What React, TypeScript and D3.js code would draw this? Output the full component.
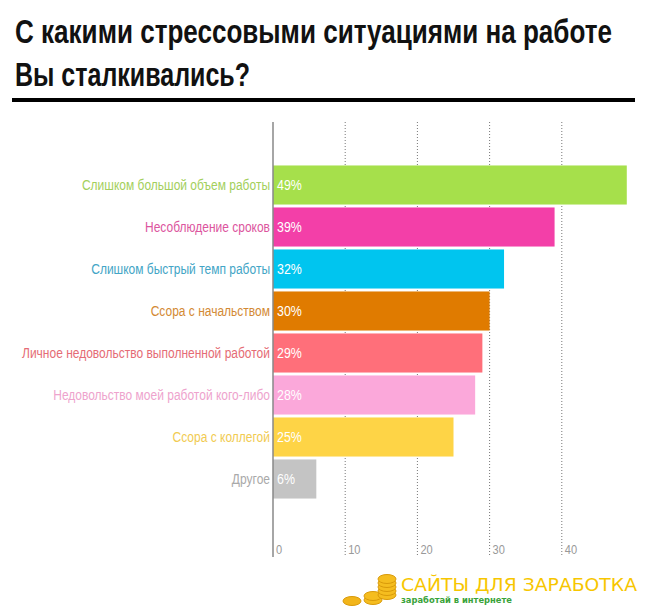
import React, { useLayoutEffect, useRef, useState } from "react";
import * as d3 from "d3";

const categories = [
  "Слишком большой объем работы",
  "Несоблюдение сроков",
  "Слишком быстрый темп работы",
  "Ссора с начальством",
  "Личное недовольство выполненной работой",
  "Недовольство моей работой кого-либо",
  "Ссора с коллегой",
  "Другое",
];
const values = [49, 39, 32, 30, 29, 28, 25, 6];
const barColors = ["#a6e04b", "#f33fa8", "#00c5ef", "#e07b00", "#ff6f7a", "#fba8da", "#fed446", "#c4c4c4"];
const labelColors = ["#a3cf5c", "#dc559e", "#43a5c6", "#d38a34", "#e56b75", "#eea3cd", "#f1cb52", "#a9a9a9"];
const ticks = [0, 10, 20, 30, 40];
const titleLines = ["С какими стрессовыми ситуациями на работе", "Вы сталкивались?"];
const titleWidths = [597, 235];

const W = 655, H = 616;

export default function App() {
  const x = d3.scaleLinear().domain([0, 10]).range([273, 345.2]);
  const y = d3.scaleBand().domain(categories).range([164, 500]).paddingInner(0.07).paddingOuter(0.035);
  const axisTop = 122, axisBottom = 557;
  const font = "'Liberation Sans', Arial, sans-serif";
  const sx = 0.8;
  const t0 = useRef<SVGTextElement>(null);
  const t1 = useRef<SVGTextElement>(null);
  const [scales, setScales] = useState([0.74, 0.74]);
  useLayoutEffect(() => {
    const refs = [t0, t1];
    const s = refs.map((r, i) => {
      const w = r.current ? r.current.getComputedTextLength() : 0;
      return w > 0 ? titleWidths[i] / w : 0.74;
    });
    setScales(s);
  }, []);
  return (
    <svg width={W} height={H} style={{ position: "absolute", left: 0, top: 0, background: "#fff" }}>
      <text ref={t0} transform={`translate(15,43) scale(${scales[0]},1)`} fontFamily={font} fontWeight="bold" fontSize={33} fill="#111">{titleLines[0]}</text>
      <text ref={t1} transform={`translate(15,86) scale(${scales[1]},1)`} fontFamily={font} fontWeight="bold" fontSize={33} fill="#111">{titleLines[1]}</text>
      <rect x={12} y={98} width={623} height={4} fill="#000" />
      {ticks.filter(t => t > 0).map(t => (
        <line key={t} x1={x(t)} x2={x(t)} y1={axisTop} y2={axisBottom} stroke="#777" strokeWidth={1} strokeDasharray="1,2" />
      ))}
      {categories.map((c, i) => {
        const cy = y(c)! + y.bandwidth() / 2 + 5;
        return (
          <g key={c}>
            <rect x={x(0)} y={y(c)} width={x(values[i]) - x(0)} height={y.bandwidth()} fill={barColors[i]} />
            <text transform={`translate(${x(0) - 3},${cy}) scale(${sx},1)`} textAnchor="end" fontFamily={font} fontSize={15} fill={labelColors[i]}>{c}</text>
            <text transform={`translate(${x(0) + 4},${cy}) scale(${sx},1)`} fontFamily={font} fontSize={15.5} fill="#fff">{values[i]}%</text>
          </g>
        );
      })}
      <line x1={x(0)} x2={x(0)} y1={axisTop} y2={axisBottom} stroke="#888" strokeWidth={1.5} />
      {ticks.map(t => (
        <text key={t} transform={`translate(${x(t) + 3},554) scale(0.85,1)`} fontFamily={font} fontSize={13} fill="#999">{t}</text>
      ))}
      <g>
        <ellipse cx={352} cy={601} rx={9} ry={4.5} fill="#f2b51a" stroke="#d99a0a" strokeWidth={1} />
        {[0, 1].map(k => (
          <ellipse key={"m" + k} cx={373} cy={600 - k * 4} rx={9} ry={4.5} fill="#f5bd1f" stroke="#d99a0a" strokeWidth={1} />
        ))}
        {[0, 1, 2, 3, 4].map(k => (
          <ellipse key={"s" + k} cx={387} cy={595 - k * 4} rx={9} ry={4.5} fill="#f5bd1f" stroke="#d99a0a" strokeWidth={1} />
        ))}
      </g>
      <text x={401} y={591} fontFamily="'DejaVu Sans', sans-serif" fontSize={18} fill="#f7c600" textLength={236} lengthAdjust="spacingAndGlyphs">САЙТЫ ДЛЯ ЗАРАБОТКА</text>
      <text x={401} y={603} fontFamily="'DejaVu Sans', sans-serif" fontWeight="bold" fontSize={8} fill="#3aa33a" textLength={111} lengthAdjust="spacingAndGlyphs">заработай в интернете</text>
    </svg>
  );
}
